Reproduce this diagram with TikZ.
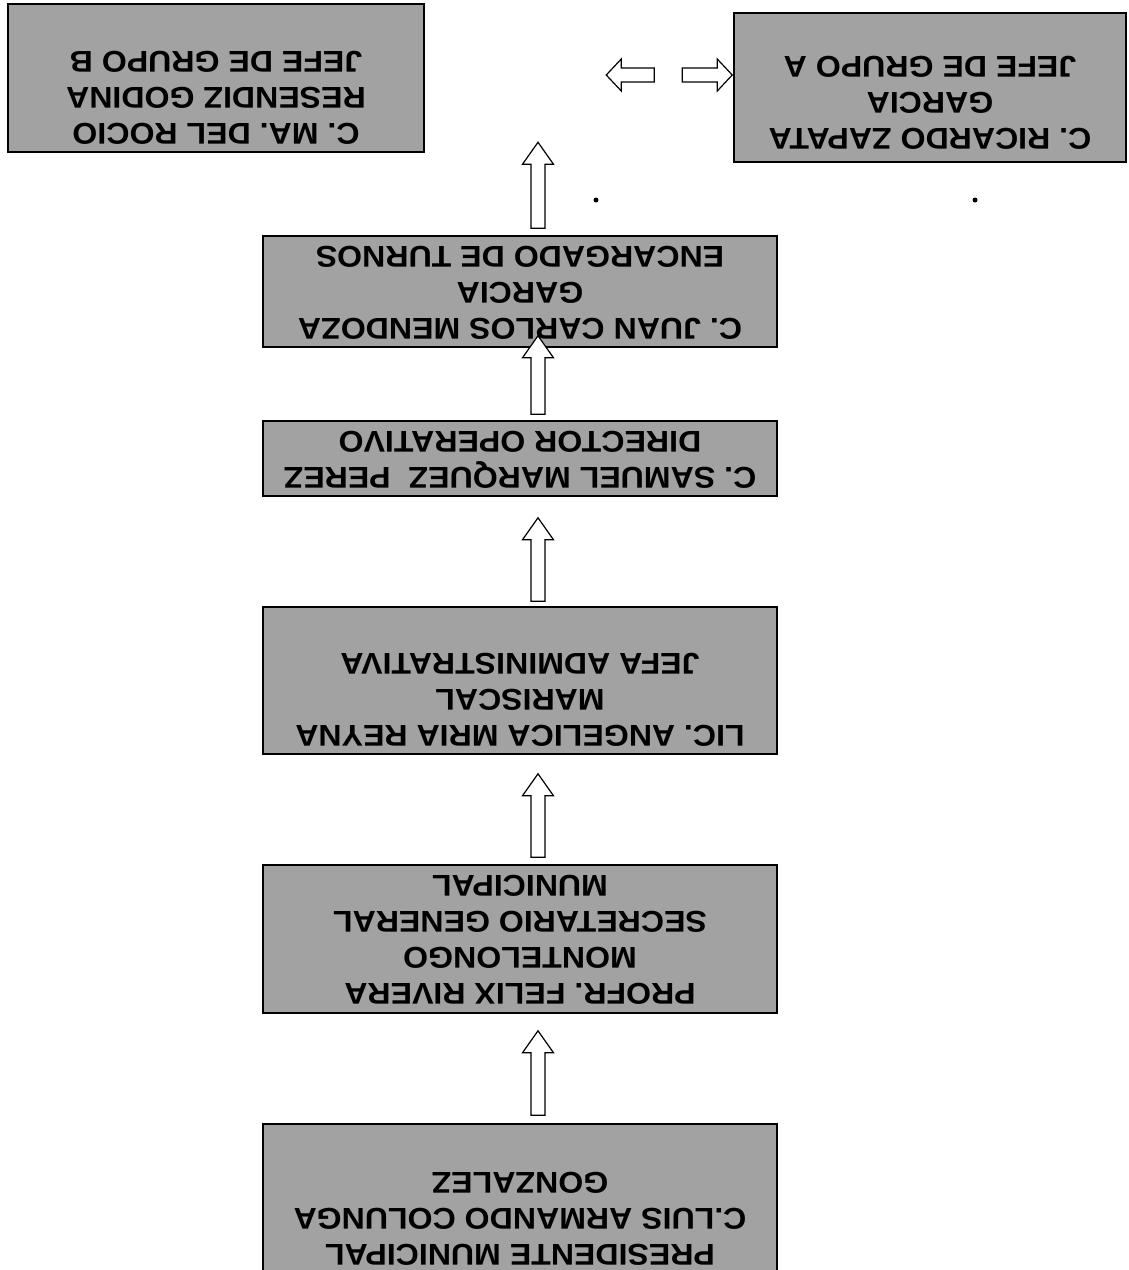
\documentclass[tikz,border=0pt]{standalone}
\usepackage{fontspec}
\newfontfamily\orgfont[FakeStretch=1.07]{Liberation Sans}
\usetikzlibrary{calc}
\definecolor{boxgray}{RGB}{162,162,162}
\tikzset{
  box/.style={draw=black, line width=1.5pt, fill=boxgray, rectangle, inner sep=0pt},
  lbl/.style={rotate=180, align=center, inner sep=0pt, text=black,
    font=\orgfont\bfseries\fontsize{30}{36}\selectfont},
  blockarrow/.style={draw=black, line width=1.2pt, fill=white, line join=miter},
  dot/.style={circle, fill=black, inner sep=0pt, minimum size=5pt},
}
% hollow block arrow pointing up, from tail #1 to tip #2
\newcommand\blockup[2]{%
  \draw[blockarrow] let \p1=(#1), \p2=(#2) in
    (\x1-7pt,\y1) -- (\x1-7pt,\y2-22pt) -- (\x1-15.5pt,\y2-22pt) -- (\x1,\y2)
    -- (\x1+15.5pt,\y2-22pt) -- (\x1+7pt,\y2-22pt) -- (\x1+7pt,\y1) -- cycle;}
% hollow block arrow pointing left, from tail #1 to tip #2
\newcommand\blockleft[2]{%
  \draw[blockarrow] let \p1=(#1), \p2=(#2) in
    (\x1,\y1+7pt) -- (\x2+15pt,\y1+7pt) -- (\x2+15pt,\y1+16pt) -- (\x2,\y1)
    -- (\x2+15pt,\y1-16pt) -- (\x2+15pt,\y1-7pt) -- (\x1,\y1-7pt) -- cycle;}
% hollow block arrow pointing right, from tail #1 to tip #2
\newcommand\blockright[2]{%
  \draw[blockarrow] let \p1=(#1), \p2=(#2) in
    (\x1,\y1+7pt) -- (\x2-15pt,\y1+7pt) -- (\x2-15pt,\y1+16pt) -- (\x2,\y1)
    -- (\x2-15pt,\y1-16pt) -- (\x2-15pt,\y1-7pt) -- (\x1,\y1-7pt) -- cycle;}

\begin{document}
\begin{tikzpicture}[x=1pt,y=-1pt]
\useasboundingbox (0,0) rectangle (1129,1270);
\clip (0,0) rectangle (1129,1270);
\fill[white] (0,0) rectangle (1129,1270);

% boxes
\node[box, minimum width=416pt, minimum height=148pt] (b1) at (216,78) {};
\node[box, minimum width=392pt, minimum height=149pt] (b2) at (930,87.5) {};
\node[box, minimum width=514pt, minimum height=111pt] (b5) at (520,291.5) {};
\node[box, minimum width=514pt, minimum height=75pt]  (b6) at (520,458.5) {};
\node[box, minimum width=514pt, minimum height=147pt] (b7) at (520,680.5) {};
\node[box, minimum width=514pt, minimum height=148pt] (b8) at (520,939) {};
\node[box, minimum width=514pt, minimum height=196pt] (b9) at (520,1222) {};

% labels (printed upside down)
\node[lbl] (t1) at (216,98) {C. MA. DEL ROCIO\\RESENDIZ GODINA\\JEFE DE GRUPO B};
\node[lbl] (t2) at (930,103) {C. RICARDO ZAPATA\\GARCIA\\JEFE DE GRUPO A};
\node[lbl] (t5) at (520,293) {C. JUAN CARLOS MENDOZA\\GARCIA\\ENCARGADO DE TURNOS};
\node[lbl] (t6) at (520,459.5) {C. SAMUEL MARQUEZ\ \ PEREZ\\DIRECTOR OPERATIVO};
\node[lbl] (t7) at (520,700) {LIC. ANGELICA MRIA REYNA\\MARISCAL\\JEFA ADMINISTRATIVA};
\node[lbl] (t8) at (520,940) {PROFR. FELIX RIVERA\\MONTELONGO\\SECRETARIO GENERAL\\MUNICIPAL};
\node[lbl] (t9) at (520,1219) {PRESIDENTE MUNICIPAL\\C.LUIS ARMANDO COLUNGA\\GONZALEZ};

% connector end points
\path (b9.north) ++(18,-8)  coordinate (a1s);
\path (b8.south) ++(18,17)  coordinate (a1e);
\path (b8.north) ++(18,-7)  coordinate (a2s);
\path (b7.south) ++(18,19)  coordinate (a2e);
\path (b7.north) ++(18,-5)  coordinate (a3s);
\path (b6.south) ++(18,21)  coordinate (a3e);
\path (b6.north) ++(18,-6)  coordinate (a4s);
\path (b5.south) ++(18,-12) coordinate (a4e);
\path (b5.north) ++(18,-7)  coordinate (a5s);
\path (b5.north) ++(18,-93) coordinate (a5e);
\path (b2.west)  ++(-1,-12.5) coordinate (hre);
\path (hre) ++(-50,0)  coordinate (hrs);
\path (hre) ++(-78,0)  coordinate (hls);
\path (hre) ++(-126,0) coordinate (hle);

% block arrows
\blockup{a1s}{a1e}
\blockup{a2s}{a2e}
\blockup{a3s}{a3e}
\blockup{a4s}{a4e}
\blockup{a5s}{a5e}
\blockleft{hls}{hle}
\blockright{hrs}{hre}

% stray marks
\node[dot] (d1) at (596,200) {};
\node[dot] (d2) at (975,200) {};
\end{tikzpicture}
\end{document}
